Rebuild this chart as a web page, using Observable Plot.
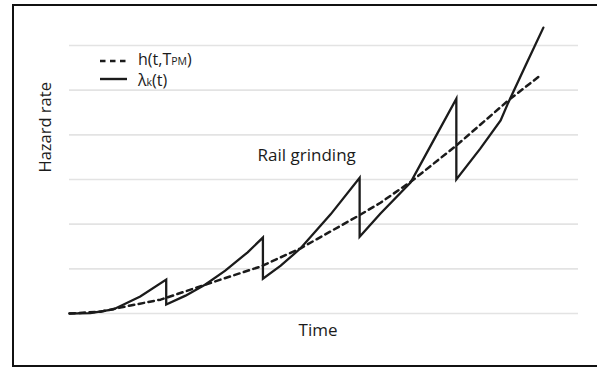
<!DOCTYPE html>
<html>
<head>
<meta charset="utf-8">
<script src="https://cdn.jsdelivr.net/npm/d3@7"></script>
<script src="https://cdn.jsdelivr.net/npm/@observablehq/plot@0.6"></script>
<style>
  html, body { margin: 0; padding: 0; width: 597px; height: 368px; overflow: hidden; background: #fff; }
  #wrap { position: relative; width: 597px; height: 368px; }
  #frame { position: absolute; left: 12px; top: 4px; width: 700px; height: 363px; box-sizing: border-box; border: 2.6px solid #111; pointer-events: none; }
  #chart { position: absolute; left: 0; top: 0; }
</style>
</head>
<body>
<div id="wrap"><div id="chart"></div><div id="frame"></div></div>
<script>
// Baseline hazard h(t, T_PM) (dashed)
const hTime  = [0, 0.61, 1.20, 1.79, 2.97, 3.75, 4.54, 5.68, 6.11, 6.74, 7.62, 8.62, 9.25];
const hValue = [0, 0.04, 0.18, 0.31, 0.76, 1.05, 1.46, 2.19, 2.48, 2.98, 3.78, 4.77, 5.33];

// Hazard with rail grinding λk(t) (solid), one segment per maintenance cycle
const segTimes = [
  [0, 0.41, 0.86, 1.39, 1.9],
  [1.9, 2.28, 2.67, 3.06, 3.5, 3.8],
  [3.8, 4.15, 4.54, 5.13, 5.7],
  [5.7, 6.11, 6.7, 7.15, 7.6],
  [7.6, 8.07, 8.47, 8.62, 8.96, 9.31]
];
const segValues = [
  [0, 0.01, 0.09, 0.38, 0.76],
  [0.20, 0.40, 0.65, 0.96, 1.37, 1.70],
  [0.78, 1.07, 1.46, 2.22, 3.04],
  [1.72, 2.24, 2.93, 3.87, 4.81],
  [3.00, 3.69, 4.32, 4.72, 5.55, 6.40]
];

const yTicks = [0, 1, 2, 3, 4, 5, 6];
const annotations = [{t: 4.66, y: 3.54, text: "Rail grinding"}];
const axisLabels = {x: "Time", y: "Hazard rate"};

const hData = hTime.map((t, i) => ({t, y: hValue[i]}));
const lamData = segTimes.flatMap((ts, s) => ts.map((t, i) => ({t, y: segValues[s][i]})));

const ink = "#1b1b1b";
const font = "'Open Sans', 'DejaVu Sans', sans-serif";

function legendMark(index, scales, values, dimensions) {
  const g = d3.create("svg:g").attr("text-anchor", "start");
  const x0 = 100;
  const x1 = x0 + 27;
  const tx = x0 + 38;
  g.append("line").attr("x1", x0).attr("x2", x1).attr("y1", 61).attr("y2", 61)
    .attr("stroke", ink).attr("stroke-width", 2.5).attr("stroke-dasharray", "5.5,4.5");
  g.append("line").attr("x1", x0).attr("x2", x1).attr("y1", 79).attr("y2", 79)
    .attr("stroke", ink).attr("stroke-width", 2.4);
  const t1 = g.append("text").attr("x", tx).attr("y", 65).attr("font-size", 16)
    .attr("font-family", font).attr("fill", ink).attr("text-anchor", "start");
  t1.append("tspan").text("h(t,T");
  t1.append("tspan").attr("font-size", 10.5).text("PM");
  t1.append("tspan").text(")");
  const t2 = g.append("text").attr("x", tx).attr("y", 86).attr("font-size", 16)
    .attr("font-family", font).attr("fill", ink).attr("text-anchor", "start");
  t2.append("tspan").text("λ");
  t2.append("tspan").attr("font-size", 10.5).text("k");
  t2.append("tspan").text("(t)");
  return g.node();
}

const plot = Plot.plot({
  width: 597,
  height: 368,
  marginLeft: 69,
  marginRight: 19,
  marginTop: 45,
  marginBottom: 55,
  style: {background: "transparent", fontFamily: font},
  x: {domain: [0, 10], axis: null},
  y: {domain: [0, 6], axis: null},
  marks: [
    Plot.ruleY(yTicks, {stroke: "#e3e3e3", strokeWidth: 1.6}),
    Plot.line(hData, {x: "t", y: "y", stroke: ink, strokeWidth: 2.5, strokeDasharray: "5.5,4.5"}),
    Plot.line(lamData, {x: "t", y: "y", stroke: ink, strokeWidth: 2.3, strokeLinejoin: "miter", strokeMiterlimit: 10}),
    Plot.text(annotations, {x: "t", y: "y", text: "text", fontSize: 17, fill: ink}),
    Plot.text([axisLabels.y], {frameAnchor: "left", dx: -24, dy: -7, rotate: -90, fontSize: 16.5, fill: ink, text: d => d}),
    Plot.text([axisLabels.x], {frameAnchor: "bottom", dx: -6, dy: 22, fontSize: 17, fill: ink, text: d => d}),
    legendMark
  ]
});
document.getElementById("chart").appendChild(plot);
</script>
</body>
</html>
